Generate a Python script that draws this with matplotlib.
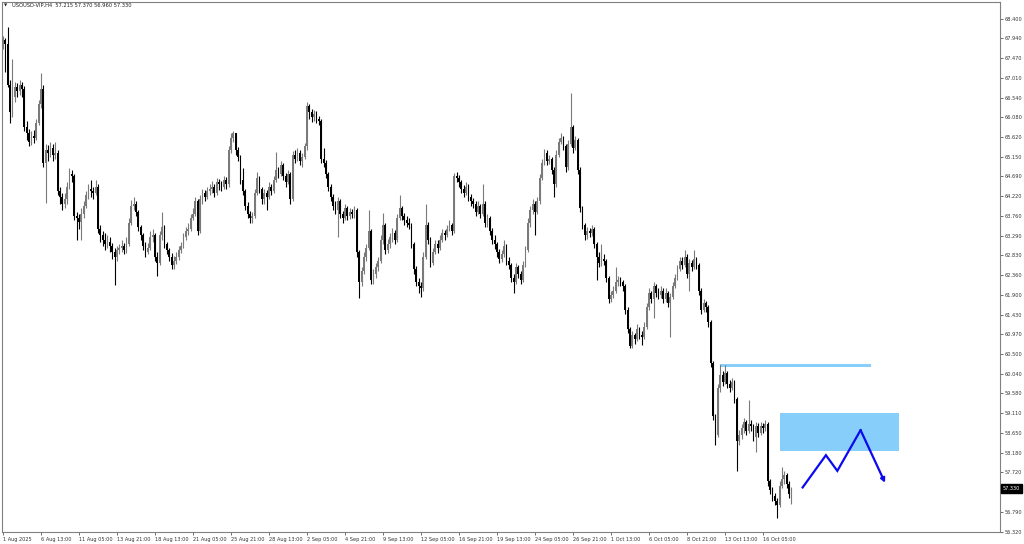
import matplotlib
matplotlib.use("Agg")
import matplotlib.pyplot as plt
from matplotlib.patches import Rectangle
import numpy as np

# USOUSD H4 candles, 1 Aug 2025 -> 17 Oct 2025
first_open = 67.75
closes = [
    67.90, 67.80, 66.85, 66.20, 66.55, 66.80, 66.70, 66.85, 66.75, 65.85,
    65.70, 65.50, 65.65, 65.60, 65.95, 66.40, 66.75, 65.00, 65.30, 65.25,
    65.35, 65.20, 65.25, 64.35, 64.20, 64.05, 64.15, 64.45, 64.75, 64.70,
    63.75, 63.70, 63.62, 63.80, 64.00, 64.25, 64.40, 64.35, 64.30, 64.45,
    63.45, 63.30, 63.20, 63.10, 63.15, 63.05, 62.90, 62.80, 62.95, 63.00,
    63.05, 62.95, 63.10, 63.60, 64.00, 64.05, 63.85, 63.50, 63.30, 63.05,
    62.90, 63.00, 63.25, 63.30, 62.80, 62.65, 63.30, 63.50, 63.10, 62.95,
    62.80, 62.60, 62.70, 62.80, 62.95, 63.05, 63.25, 63.40, 63.45, 63.70,
    63.80, 64.10, 63.40, 64.15, 64.30, 64.20, 64.35, 64.40, 64.45, 64.30,
    64.55, 64.50, 64.45, 64.60, 64.50, 65.30, 65.60, 65.70, 65.30, 65.15,
    64.60, 64.35, 64.00, 63.80, 63.70, 63.75, 64.30, 64.65, 64.40, 64.15,
    64.30, 64.20, 64.45, 64.35, 64.60, 64.85, 64.75, 64.95, 64.70, 64.55,
    64.75, 64.15, 65.20, 65.10, 65.25, 65.05, 65.15, 65.40, 66.35, 66.20,
    66.10, 66.15, 66.05, 66.00, 65.10, 65.00, 64.75, 64.45, 64.20, 64.00,
    63.90, 64.10, 63.80, 63.70, 63.95, 63.75, 63.85, 63.80, 63.90, 62.90,
    62.20, 62.45, 62.80, 63.00, 63.40, 62.25, 62.40, 62.55, 62.70, 63.20,
    63.55, 62.95, 63.10, 63.25, 63.35, 63.20, 63.70, 63.95, 63.75, 63.65,
    63.60, 63.55, 63.10, 62.50, 62.20, 62.10, 62.05, 62.80, 63.55, 63.20,
    62.65, 62.90, 63.10, 63.00, 63.20, 63.35, 63.30, 63.45, 63.55, 63.40,
    64.70, 64.65, 64.55, 64.40, 64.30, 64.45, 64.20, 64.10, 64.05, 63.85,
    64.00, 63.80, 64.05, 63.60, 63.70, 63.40, 63.20, 63.10, 62.90, 62.75,
    62.85, 63.05, 62.70, 62.60, 62.30, 62.20, 62.55, 62.40, 62.25, 62.60,
    62.95, 63.60, 63.90, 64.05, 63.85, 64.10, 64.65, 65.00, 65.25, 65.05,
    65.10, 64.85, 64.50, 65.20, 65.50, 65.60, 65.40, 64.90, 65.45, 65.85,
    65.35, 65.55, 64.85, 63.95, 63.55, 63.30, 63.40, 63.35, 63.45, 63.10,
    62.80, 62.65, 62.75, 62.70, 62.30, 61.80, 61.90, 62.00, 62.20, 62.25,
    62.20, 62.10, 61.55, 61.10, 60.70, 60.95, 60.85, 61.10, 60.95, 60.90,
    61.15, 61.60, 61.95, 61.80, 62.10, 61.95, 61.90, 62.00, 61.80, 61.95,
    61.70, 61.85, 62.10, 62.30, 62.50, 62.70, 62.60, 62.80, 62.40, 62.65,
    62.55, 62.75, 62.60, 62.00, 61.55, 61.70, 61.60, 61.25, 60.30, 59.05,
    58.60, 59.70, 60.00, 59.85, 60.05, 59.80, 59.70, 59.85, 59.45, 58.45,
    58.60, 58.75, 58.90, 58.70, 58.85, 58.80, 58.55, 58.80, 58.65, 58.80,
    58.75, 58.85, 57.50, 57.30, 57.15, 57.05, 56.95, 57.40, 57.55, 57.65,
    57.45, 57.215, 57.33,
]
highs = [
    68.00, 67.95, 68.22, 66.95, 67.45, 66.92, 66.90, 66.95, 66.92, 66.82,
    66.00, 65.80, 65.75, 65.78, 66.05, 66.50, 67.13, 66.85, 65.45, 65.42,
    65.50, 65.45, 65.50, 65.30, 64.45, 64.30, 64.30, 64.55, 64.88, 64.85,
    64.75, 63.85, 63.80, 63.95, 64.10, 64.35, 64.50, 64.61, 64.45, 64.61,
    64.50, 63.55, 63.40, 63.35, 63.30, 63.25, 63.12, 63.00, 63.05, 63.10,
    63.18, 63.12, 63.25, 63.70, 64.13, 64.20, 64.10, 63.90, 63.55, 63.35,
    63.15, 63.12, 63.40, 63.45, 63.35, 62.90, 63.40, 63.85, 63.55, 63.15,
    63.00, 62.88, 62.82, 62.90, 63.05, 63.15, 63.35, 63.50, 63.60, 63.80,
    63.95, 64.20, 64.15, 64.25, 64.40, 64.38, 64.45, 64.52, 64.58, 64.50,
    64.65, 64.62, 64.58, 64.70, 64.68, 65.40, 65.70, 65.75, 65.72, 65.38,
    65.20, 64.89, 64.40, 64.08, 63.88, 63.85, 64.40, 64.80, 64.70, 64.45,
    64.40, 64.38, 64.55, 64.52, 64.70, 65.27, 64.92, 65.05, 65.00, 64.78,
    64.85, 64.80, 65.28, 65.30, 65.35, 65.30, 65.25, 65.48, 66.45, 66.40,
    66.28, 66.25, 66.22, 66.12, 66.05, 65.35, 65.08, 64.80, 64.50, 64.28,
    64.10, 64.20, 64.15, 63.88, 64.05, 64.00, 63.95, 63.92, 64.00, 63.95,
    62.95, 62.55, 62.90, 63.10, 63.90, 63.45, 62.50, 62.65, 62.80, 63.30,
    63.83, 63.60, 63.22, 63.35, 63.48, 63.42, 63.80, 64.25, 64.00, 63.82,
    63.75, 63.70, 63.60, 63.15, 62.58, 62.30, 62.20, 62.90, 64.05, 63.62,
    63.25, 63.00, 63.20, 63.18, 63.30, 63.45, 63.42, 63.55, 63.65, 63.60,
    64.78, 64.80, 64.72, 64.60, 64.48, 64.55, 64.50, 64.28, 64.18, 64.10,
    64.10, 64.05, 64.50, 64.10, 63.80, 63.75, 63.48, 63.30, 63.15, 62.98,
    62.95, 63.18, 63.10, 62.78, 62.65, 62.38, 62.65, 62.60, 62.45, 62.70,
    63.05, 63.70, 64.00, 64.15, 64.10, 64.20, 64.75, 65.10, 65.33, 65.30,
    65.20, 65.15, 64.90, 65.30, 65.60, 65.70, 65.65, 65.45, 65.55, 66.65,
    65.90, 65.65, 65.60, 64.90, 64.00, 63.60, 63.50, 63.48, 63.55, 63.50,
    63.15, 62.90, 63.10, 62.85, 62.75, 62.35, 62.00, 62.10, 62.55, 62.35,
    62.32, 62.25, 62.15, 61.60, 61.15, 61.05, 61.00, 61.20, 61.15, 61.05,
    61.25, 61.70, 62.05, 62.00, 62.20, 62.15, 62.05, 62.10, 62.05, 62.05,
    62.00, 61.95, 62.20, 62.40, 62.60, 62.80, 62.78, 62.95, 62.85, 62.75,
    62.72, 62.95, 62.80, 62.65, 62.05, 61.80, 61.75, 61.65, 61.30, 60.35,
    59.10, 59.80, 60.28, 60.10, 60.25, 60.10, 59.88, 59.95, 59.90, 59.50,
    58.72, 58.85, 59.00, 58.95, 59.42, 58.95, 58.85, 58.90, 58.88, 58.90,
    58.88, 58.95, 58.90, 57.55, 57.38, 57.22, 57.10, 57.50, 57.84, 57.75,
    57.70, 57.50, 57.37,
]
lows = [
    67.70, 67.15, 66.80, 65.95, 66.10, 66.45, 66.55, 66.60, 66.55, 65.75,
    65.55, 65.40, 65.42, 65.48, 65.55, 65.90, 66.30, 64.90, 64.06, 65.05,
    65.15, 65.05, 65.10, 64.25, 64.05, 63.90, 63.95, 64.05, 64.40, 64.55,
    63.65, 63.19, 63.45, 63.20, 63.70, 63.95, 64.15, 64.20, 64.15, 64.25,
    63.35, 63.15, 63.05, 62.95, 63.00, 62.90, 62.75, 62.13, 62.70, 62.85,
    62.90, 62.85, 62.88, 63.05, 63.55, 63.90, 63.75, 63.40, 63.20, 62.95,
    62.80, 62.85, 62.95, 63.15, 62.70, 62.35, 62.60, 63.20, 63.00, 62.85,
    62.70, 62.50, 62.50, 62.62, 62.72, 62.88, 63.00, 63.18, 63.30, 63.40,
    63.65, 63.75, 63.30, 63.35, 64.05, 64.10, 64.15, 64.25, 64.30, 64.20,
    64.25, 64.38, 64.35, 64.40, 64.40, 64.45, 65.25, 65.50, 65.20, 65.05,
    64.50, 64.25, 63.90, 63.70, 63.59, 63.60, 63.70, 64.25, 64.30, 64.05,
    64.05, 63.90, 64.15, 64.25, 64.30, 64.55, 64.65, 64.70, 64.60, 64.45,
    64.50, 64.05, 64.10, 65.00, 65.05, 64.95, 64.90, 65.10, 65.30, 66.05,
    65.98, 66.00, 65.95, 65.90, 65.00, 64.90, 64.65, 64.35, 64.10, 63.90,
    63.80, 63.25, 63.70, 63.60, 63.65, 63.65, 63.68, 63.70, 63.72, 62.80,
    61.82, 62.10, 62.40, 62.70, 62.95, 62.15, 62.15, 62.30, 62.45, 62.65,
    63.10, 62.85, 62.88, 63.00, 63.15, 63.10, 63.15, 63.65, 63.65, 63.55,
    63.50, 63.45, 63.00, 62.40, 62.10, 61.95, 61.85, 62.00, 62.75, 63.10,
    62.55, 62.60, 62.85, 62.88, 62.95, 63.15, 63.20, 63.25, 63.40, 63.30,
    63.35, 64.55, 64.45, 64.30, 64.20, 64.25, 64.10, 64.00, 63.95, 63.75,
    63.80, 63.70, 63.75, 63.50, 63.50, 63.30, 63.10, 62.98, 62.80, 62.65,
    62.68, 62.80, 62.60, 62.50, 62.20, 61.95, 62.15, 62.30, 62.15, 62.20,
    62.55, 62.90, 63.50, 63.80, 63.30, 63.80, 64.05, 64.60, 64.95, 64.95,
    64.98, 64.75, 64.20, 64.45, 65.15, 65.45, 65.30, 64.80, 64.85, 65.40,
    65.25, 65.30, 64.75, 63.85, 63.45, 63.20, 63.22, 63.25, 63.28, 63.00,
    62.25, 62.55, 62.58, 62.60, 62.20, 61.70, 61.72, 61.82, 61.95, 62.10,
    62.10, 62.00, 61.45, 61.00, 60.65, 60.65, 60.75, 60.80, 60.85, 60.72,
    60.85, 61.10, 61.55, 61.70, 61.35, 61.85, 61.80, 61.82, 61.70, 61.72,
    61.60, 60.90, 61.80, 62.05, 62.25, 62.45, 62.50, 62.55, 62.30, 62.00,
    62.45, 62.50, 62.50, 61.90, 61.45, 61.50, 61.50, 61.15, 60.20, 58.95,
    58.35, 58.55, 59.60, 59.75, 59.80, 59.70, 59.60, 59.65, 59.35, 57.75,
    58.35, 58.50, 58.65, 58.60, 58.65, 58.70, 58.45, 58.20, 58.55, 58.60,
    58.65, 58.70, 57.40, 57.20, 57.05, 56.95, 56.65, 56.90, 57.35, 57.45,
    57.35, 57.10, 56.96,
]

date_labels = ["1 Aug 2025", "6 Aug 13:00", "11 Aug 05:00", "13 Aug 21:00",
               "18 Aug 13:00", "21 Aug 05:00", "25 Aug 21:00", "28 Aug 13:00",
               "2 Sep 05:00", "4 Sep 21:00", "9 Sep 13:00", "12 Sep 05:00",
               "16 Sep 21:00", "19 Sep 13:00", "24 Sep 05:00", "26 Sep 21:00",
               "1 Oct 13:00", "6 Oct 05:00", "8 Oct 21:00", "13 Oct 13:00",
               "16 Oct 05:00"]
bars_per_label = 16

price_ticks = [68.400, 67.940, 67.470, 67.010, 66.540, 66.080, 65.620, 65.150,
               64.690, 64.220, 63.760, 63.290, 62.830, 62.360, 61.900, 61.430,
               60.970, 60.500, 60.040, 59.580, 59.110, 58.650, 58.180, 57.720,
               56.790, 56.320]

header = "USOUSD-VIP,H4  57.215 57.370 56.960 57.330"
last_price = 57.330

# drawings on the chart (bar index / price)
level_bars = [302.3, 365.5]
level_prices = [60.19, 60.28]
zone_bars = [327.2, 377.3]
zone_prices = [58.22, 59.11]
path_bars = [336.7, 346.5, 351.3, 361.1, 371.4]
path_prices = [57.36, 58.12, 57.75, 58.71, 57.47]

fig = plt.figure(figsize=(10.24, 5.44), dpi=100)
ax = fig.add_axes([1.5 / 1024, 12 / 544, 998.5 / 1024, 530.5 / 544])

opens = [first_open] + closes[:-1]
idx = np.arange(len(closes))
o = np.array(opens)
c = np.array(closes)
cols = ['#7a7a7a' if cc >= oo else '#000000' for oo, cc in zip(o, c)]

ax.vlines(idx, lows, highs, colors=cols, linewidth=0.8, zorder=3)
ax.bar(idx, np.maximum(np.abs(c - o), 0.02), bottom=np.minimum(o, c),
       width=0.8, color=cols, linewidth=0, zorder=3)

ax.add_patch(Rectangle((level_bars[0], level_prices[0]), level_bars[1] - level_bars[0],
                       level_prices[1] - level_prices[0], fc='#87cefa', ec='none', zorder=2))
ax.add_patch(Rectangle((zone_bars[0], zone_prices[0]), zone_bars[1] - zone_bars[0],
                       zone_prices[1] - zone_prices[0], fc='#87cefa', ec='none', zorder=2))

blue = '#0a0af0'
ax.plot(path_bars[:-1], path_prices[:-1], color=blue, lw=1.6, solid_joinstyle='miter', zorder=4)
ax.annotate("", xy=(path_bars[-1], path_prices[-1]), xytext=(path_bars[-2], path_prices[-2]),
            arrowprops=dict(arrowstyle='-|>', color=blue, lw=1.6, mutation_scale=6,
                            shrinkA=0, shrinkB=0), zorder=4)

ax.set_xlim(-0.63, 419.8)
ax.set_ylim(56.31, 68.81)

ax.set_xticks([k * bars_per_label for k in range(len(date_labels))])
ax.set_xticklabels(date_labels, ha='left')
ax.yaxis.tick_right()
ax.set_yticks(price_ticks)
ax.set_yticklabels([f"{p:.3f}" for p in price_ticks])
ax.tick_params(axis='both', direction='out', length=2.5, width=0.6, colors='#555555',
               labelsize=3.6, labelcolor='#333333', pad=1)
for s in ax.spines.values():
    s.set_color('#808080')
    s.set_linewidth(0.8)

ax.annotate(f"{last_price:.3f}", xy=(1, last_price), xycoords=('axes fraction', 'data'),
            xytext=(2, 0), textcoords='offset points', ha='left', va='center',
            fontsize=3.6, color='white',
            bbox=dict(boxstyle='square,pad=0.35', fc='black', ec='black'))

fig.text(4 / 1024, 1 - 5.5 / 544, "▼", fontsize=3, va='center', ha='left', color='#222222')
fig.text(12 / 1024, 1 - 5.5 / 544, header, fontsize=3.7, va='center', ha='left', color='#222222')

fig.savefig("out.png", dpi=100)
